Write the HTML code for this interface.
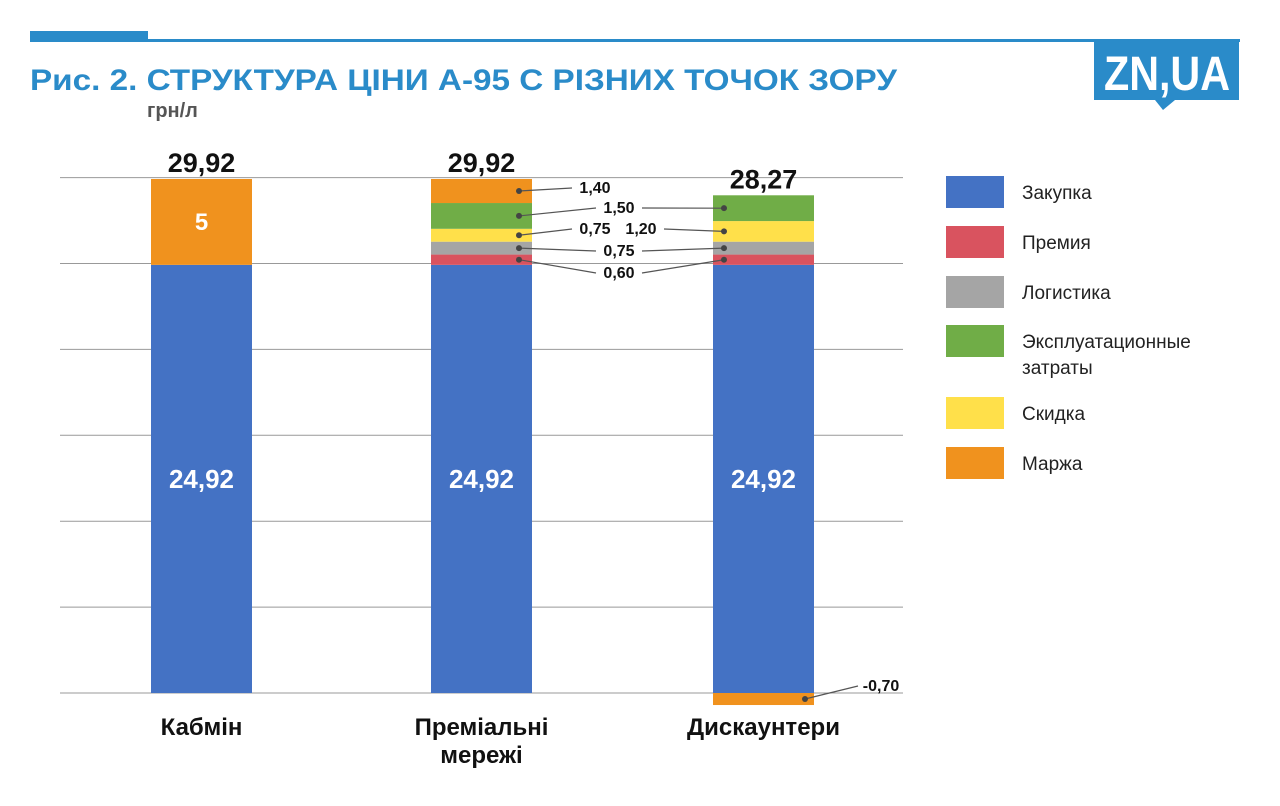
<!DOCTYPE html>
<html><head><meta charset="utf-8">
<style>
body{margin:0;background:#fff;width:1280px;height:801px;overflow:hidden;font-family:"Liberation Sans","DejaVu Sans",sans-serif}
</style></head>
<body>
<svg id="c" width="1280" height="801" xmlns="http://www.w3.org/2000/svg">
<rect x="30" y="31" width="118" height="9" fill="#2a8bc9"/>
<rect x="30" y="39" width="1210" height="3" fill="#2a8bc9"/>
<text x="30" y="90" font-size="30" font-weight="bold" fill="#2a8bc9" textLength="867" lengthAdjust="spacingAndGlyphs">Рис. 2. СТРУКТУРА ЦІНИ А-95 С РІЗНИХ ТОЧОК ЗОРУ</text>
<text x="147" y="117" font-size="20" font-weight="bold" fill="#555">грн/л</text>
<g>
<rect x="1094" y="40" width="145" height="60" fill="#2a8bc9"/>
<polygon points="1155,100 1175,100 1163,110" fill="#2a8bc9"/>
<text x="1104" y="90" font-size="48" font-weight="bold" fill="#fff" textLength="126" lengthAdjust="spacingAndGlyphs">ZN,UA</text>
</g>
<g id="plot"></g>
<g id="legend"></g>
</svg>
<script>
const categories=["Кабмін","Преміальні мережі","Дискаунтери"];
const totals=[29.92,29.92,28.27];
const seriesNames=["Закупка","Премия","Логистика","Эксплуатационные затраты","Скидка","Маржа"];
const purchase=[24.92,24.92,24.92];
const bonus=[0,0.60,0.60];
const logistics=[0,0.75,0.75];
const opex=[0,1.50,1.50];
const discount=[0,0.75,1.20];
const margin=[5,1.40,-0.70];
const yTicks=[0,5,10,15,20,25,30];
const colors=["#4472c4","#d9535f","#a5a5a5","#70ad47","#ffe04a","#f0921e"];
const series=[purchase,bonus,logistics,opex,discount,margin];
const stackOrder=[0,1,2,4,3,5];
const NS="http://www.w3.org/2000/svg";
const plot=document.getElementById('plot'),leg=document.getElementById('legend');
const y0=693,pxu=17.18;
const y=v=>y0-v*pxu;
const barX=[151,431,713],bw=101;
function el(t,a,p){const e=document.createElementNS(NS,t);for(const k in a)e.setAttribute(k,a[k]);(p||plot).appendChild(e);return e;}
function fmt(v){return v.toFixed(2).replace('.',',');}
yTicks.forEach(t=>{const l=el('line',{x1:60,x2:903,y1:y(t),y2:y(t),stroke:'#999','stroke-width':1});

});
const mids=[];
categories.forEach((c,i)=>{
 let base=0;mids[i]=[];
 stackOrder.forEach(k=>{
  const v=series[k][i];if(v===0){mids[i][k]=null;return;}
  let a,b;
  if(v>0){a=base;b=base+v;base=b;}else{a=v;b=0;}
  const r=el('rect',{x:barX[i],y:y(b),width:bw,height:y(a)-y(b),fill:colors[k]});
  
  
  mids[i][k]=(y(a)+y(b))/2;
 });
 const t=el('text',{x:barX[i]+bw/2,y:y(base)-7,'font-size':27,'font-weight':'bold','text-anchor':'middle',fill:'#111'});
 t.textContent=fmt(totals[i]);
 
 
 const p=el('text',{x:barX[i]+bw/2,y:mids[i][0]+9,'font-size':26,'font-weight':'bold','text-anchor':'middle',fill:'#fff'});
 p.textContent=fmt(purchase[i]);
 
 
 const lines=c.split(' ');
 lines.forEach((ln,j)=>{const tx=el('text',{x:barX[i]+bw/2,y:735+j*28,'font-size':24,'font-weight':'bold','text-anchor':'middle',fill:'#111'});
 tx.textContent=ln;
 
 });
});
const km=el('text',{x:barX[0]+bw/2,y:mids[0][5]+8,'font-size':24,'font-weight':'bold','text-anchor':'middle',fill:'#fff'});
km.textContent=String(margin[0]);


function callout(i,k,ly,lex){
 const dx=barX[i]+(i===2?11:88), dy=mids[i][k];
 el('line',{x1:dx,y1:dy,x2:lex,y2:ly-5,stroke:'#555','stroke-width':1.2});
 el('circle',{cx:dx,cy:dy,r:3,fill:'#444'});
}
function lab(txt,x,yy){const t=el('text',{x:x,y:yy,'font-size':16,'font-weight':'bold','text-anchor':'middle',fill:'#111'});t.textContent=txt;

}
callout(1,5,193,572);lab(fmt(margin[1]),595,193);
callout(1,3,213,596);callout(2,3,213,642);lab(fmt(opex[1]),619,213);
callout(1,4,234,572);lab(fmt(discount[1]),595,234);
callout(2,4,234,664);lab(fmt(discount[2]),641,234);
callout(1,2,256,596);callout(2,2,256,642);lab(fmt(logistics[1]),619,256);
callout(1,1,278,596);callout(2,1,278,642);lab(fmt(bonus[1]),619,278);
{const dx=805,dy=mids[2][5];el('line',{x1:dx,y1:dy,x2:858,y2:686,stroke:'#555','stroke-width':1.2});el('circle',{cx:dx,cy:dy,r:3,fill:'#444'});lab(fmt(margin[2]),881,691);}
const ly=[192,242,292,341,413,463];
seriesNames.forEach((n,k)=>{
 const r=el('rect',{x:946,y:ly[k]-16,width:58,height:32,fill:colors[k]},leg);
 
 
 const parts=k===3?["Эксплуатационные","затраты"]:[n];
 parts.forEach((p,j)=>{const t=el('text',{x:1022,y:ly[k]+7+j*26,'font-size':19,fill:'#222'},leg);t.textContent=p;
 
 });
});
</script>
</body></html>
